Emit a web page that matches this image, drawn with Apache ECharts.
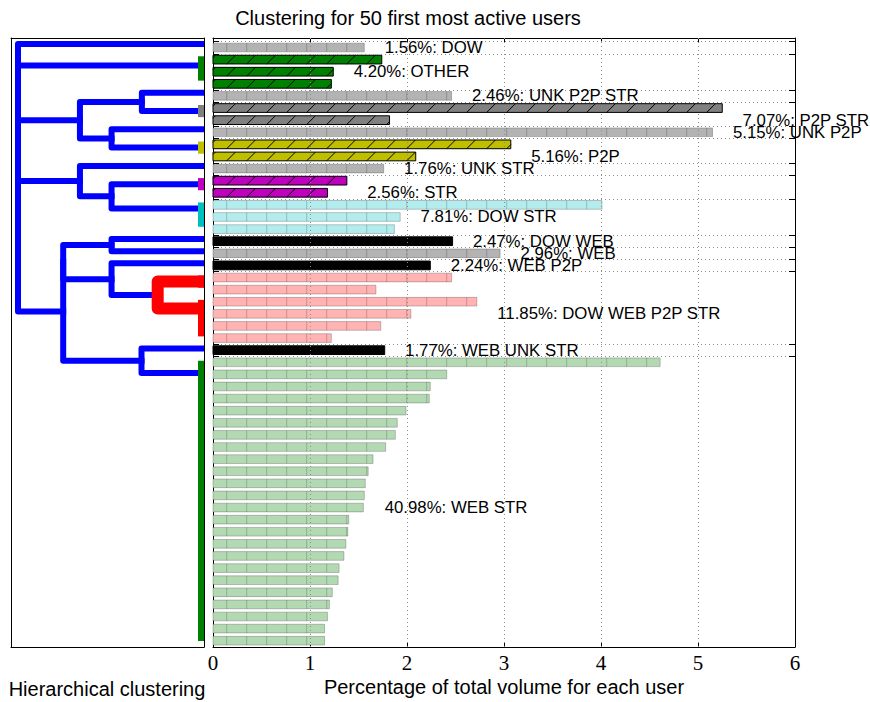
<!DOCTYPE html>
<html>
<head>
<meta charset="utf-8">
<script src="https://cdn.jsdelivr.net/npm/echarts@6/dist/echarts.min.js"></script>
<style>
  html, body { margin: 0; padding: 0; background: #fff; }
  #chart { width: 870px; height: 702px; }
</style>
</head>
<body>
<div id="chart"></div>
<script>
// ---- data -------------------------------------------------------------
// Behaviour clusters, in plotting order, and their share of total volume (%)
const clusterNames = ['DOW', 'OTHER', 'UNK P2P STR', 'P2P STR', 'UNK P2P', 'P2P', 'UNK STR',
  'STR', 'DOW STR', 'DOW WEB', 'WEB', 'WEB P2P', 'DOW WEB P2P STR', 'WEB UNK STR', 'WEB STR'];
const clusterShares = [1.56, 4.20, 2.46, 7.07, 5.15, 5.16, 1.76, 2.56, 7.81, 2.47, 2.96, 2.24, 11.85, 1.77, 40.98];
// Users per cluster (50 users in total)
const clusterSizes = [1, 3, 1, 2, 1, 2, 1, 2, 3, 1, 1, 1, 6, 1, 24];
// Percentage of total volume for each user, grouped by cluster
const userVolumes = [
  1.56,
  1.74, 1.24, 1.22,
  2.46,
  5.25, 1.82,
  5.15,
  3.07, 2.09,
  1.76,
  1.38, 1.18,
  4.01, 1.93, 1.87,
  2.47,
  2.96,
  2.24,
  2.46, 1.68, 2.72, 2.04, 1.73, 1.22,
  1.77,
  4.61, 2.41, 2.24, 2.23, 1.99, 1.90, 1.88, 1.78, 1.65, 1.60, 1.57, 1.56,
  1.55, 1.40, 1.39, 1.37, 1.35, 1.30, 1.29, 1.23, 1.20, 1.18, 1.15, 1.15
];
const xTicks = [0, 1, 2, 3, 4, 5, 6];

// Dendrogram links between clusters: [yA, dA, yB, dB, height]
// y is the leaf position (leaf k sits at k + 0.5), d the linkage distance
const treeLinks = [
  [6.75, 0.667, 11.75, 0.667, 1.0],
  [2.25, 0, 9.25, 1.0, 1.0],
  [0.5, 0, 5.75, 1.0, 1.0],
  [3.125, 1.0, 22.45, 0.757, 1.0],
  [4.5, 0, 6.0, 0, 0.334],
  [7.5, 0, 9.0, 0, 0.497],
  [5.25, 0.334, 8.25, 0.497, 0.667],
  [12.0, 0, 14.0, 0, 0.497],
  [10.5, 0, 13.0, 0.497, 0.667],
  [16.5, 0, 17.5, 0, 0.497],
  [18.5, 0, 21.1, 0.249, 0.497],
  [17.0, 0.497, 19.8, 0.497, 0.757],
  [25.5, 0, 27.5, 0, 0.336],
  [18.4, 0.757, 26.5, 0.336, 0.757]
];
// Links inside the colour-coded clusters: [yA, dA, yB, dB, height, cluster]
const clusterLinks = [
  [1.5, 0, 3.5, 0, 0, 1],
  [5.5, 0, 6.5, 0, 0, 3],
  [8.5, 0, 9.5, 0, 0, 5],
  [11.5, 0, 12.5, 0, 0, 7],
  [13.5, 0, 15.5, 0, 0, 8],
  [19.5, 0, 20.5, 0, 0, 12],
  [21.5, 0, 24.5, 0, 0, 12],
  [20.0, 0, 22.2, 0, 0.249, 12],
  [26.5, 0, 49.5, 0, 0, 14]
];

// ---- styles -----------------------------------------------------------
const clusterStyle = [
  { color: '#000000', alpha: 0.3, hatch: '|' },
  { color: '#008000', alpha: 1, hatch: '/' },
  { color: '#000000', alpha: 0.3, hatch: '|' },
  { color: '#808080', alpha: 1, hatch: '/' },
  { color: '#000000', alpha: 0.3, hatch: '|' },
  { color: '#bfbf00', alpha: 1, hatch: '/' },
  { color: '#000000', alpha: 0.3, hatch: '|' },
  { color: '#bf00bf', alpha: 1, hatch: '/' },
  { color: '#00bfbf', alpha: 0.3, hatch: '|' },
  { color: '#000000', alpha: 1, hatch: '' },
  { color: '#000000', alpha: 0.3, hatch: '|' },
  { color: '#000000', alpha: 1, hatch: '' },
  { color: '#ff0000', alpha: 0.3, hatch: '|' },
  { color: '#000000', alpha: 1, hatch: '' },
  { color: '#008000', alpha: 0.3, hatch: '|' }
];
const SANS = '"Liberation Sans", Arial, Helvetica, sans-serif';
const SERIF = '"Liberation Serif", "Times New Roman", serif';
const BAR_HALF = 0.36;      // half bar thickness, in rows
const LABEL_PAD = 0.21;     // gap between a bar end and its cluster label
const HATCH_STEP = 20, HATCH_PHASE = 6.7;

// ---- derived ----------------------------------------------------------
const clusterStart = [];
let acc = 0;
clusterSizes.forEach(n => { clusterStart.push(acc); acc += n; });
const userCluster = [];
clusterSizes.forEach((n, c) => { for (let k = 0; k < n; k++) userCluster.push(c); });

const barData = userVolumes.map((v, i) => [v, i, userCluster[i]]);
const labelData = clusterNames.map((name, c) => {
  const s = clusterStart[c], n = clusterSizes[c];
  return [userVolumes[s + Math.floor((n - 1) / 2)] + LABEL_PAD, s + Math.floor(n / 2) + 0.5, c];
});

function blend(hex, a) {
  const r = parseInt(hex.slice(1, 3), 16), g = parseInt(hex.slice(3, 5), 16), b = parseInt(hex.slice(5, 7), 16);
  const f = x => Math.round(x * a + 255 * (1 - a));
  return 'rgb(' + f(r) + ',' + f(g) + ',' + f(b) + ')';
}

// ---- renderers --------------------------------------------------------
function renderBar(params, api) {
  const v = api.value(0), i = api.value(1), c = api.value(2);
  const st = clusterStyle[c];
  const p0 = api.coord([0, i + 0.5 - BAR_HALF]);
  const p1 = api.coord([v, i + 0.5 + BAR_HALF]);
  const x0 = p0[0], x1 = p1[0];
  const yTop = Math.min(p0[1], p1[1]), yBot = Math.max(p0[1], p1[1]);
  const h = yBot - yTop;
  const light = st.alpha < 1;
  const edge = light ? 'rgba(0,0,0,0.22)' : '#000';
  const children = [{
    type: 'rect',
    shape: { x: x0, y: yTop, width: x1 - x0, height: h },
    style: { fill: blend(st.color, st.alpha), stroke: edge, lineWidth: 1 }
  }];
  if (st.hatch === '|') {
    let x = Math.ceil((x0 + 1 - HATCH_PHASE) / HATCH_STEP) * HATCH_STEP + HATCH_PHASE;
    for (; x < x1 - 1; x += HATCH_STEP) {
      children.push({ type: 'line', shape: { x1: x, y1: yTop, x2: x, y2: yBot },
        style: { stroke: 'rgba(0,0,0,0.2)', lineWidth: 1 } });
    }
  } else if (st.hatch === '/') {
    let xb = Math.floor((x0 - h - HATCH_PHASE) / HATCH_STEP) * HATCH_STEP + HATCH_PHASE;
    for (; xb < x1; xb += HATCH_STEP) {
      const t0 = Math.max(0, x0 - xb), t1 = Math.min(h, x1 - xb);
      if (t1 > t0 + 0.5) {
        children.push({ type: 'line', shape: { x1: xb + t0, y1: yBot - t0, x2: xb + t1, y2: yBot - t1 },
          style: { stroke: '#000', lineWidth: 1 } });
      }
    }
  }
  return { type: 'group', children: children };
}

function linkPoints(api) {
  const yA = api.value(0), dA = api.value(1), yB = api.value(2), dB = api.value(3), H = api.value(4);
  return [api.coord([dA, yA]), api.coord([H, yA]), api.coord([H, yB]), api.coord([dB, yB])];
}
function renderTreeLink(params, api) {
  return { type: 'polyline', shape: { points: linkPoints(api) },
    style: { stroke: '#0000ff', lineWidth: 6, fill: null, lineJoin: 'round', lineCap: 'square' } };
}
function renderClusterLink(params, api) {
  const c = api.value(5);
  return { type: 'polyline', shape: { points: linkPoints(api) },
    style: { stroke: clusterStyle[c].color, lineWidth: 12, fill: null, lineJoin: 'round', lineCap: 'butt' } };
}

// dotted separators at the first row of each cluster, with ticks on both spines
function renderSeparator(params, api) {
  const s = api.value(0);
  const pl = api.coord([xTicks[0], s]), pr = api.coord([xTicks[xTicks.length - 1], s]);
  const y = Math.round(pl[1]) + 0.5;
  return { type: 'group', children: [
    { type: 'line', shape: { x1: pl[0], y1: y, x2: pr[0], y2: y },
      style: { stroke: '#8c8c8c', lineWidth: 1, lineDash: [1, 3] } },
    { type: 'line', shape: { x1: pl[0], y1: y, x2: pl[0] + 6, y2: y }, style: { stroke: '#000', lineWidth: 1 } },
    { type: 'line', shape: { x1: pr[0] - 6, y1: y, x2: pr[0], y2: y }, style: { stroke: '#000', lineWidth: 1 } }
  ] };
}
// dotted vertical grid at the inner x ticks
function renderVGrid(params, api) {
  const t = api.value(0);
  const pt = api.coord([t, -0.285]), pb = api.coord([t, 50.02]);
  const x = Math.round(pt[0]) + 0.5;
  return { type: 'line', shape: { x1: x, y1: pt[1], x2: x, y2: pb[1] },
    style: { stroke: '#8c8c8c', lineWidth: 1, lineDash: [1, 3] } };
}
function renderLabel(params, api) {
  const c = api.value(2);
  const p = api.coord([api.value(0), api.value(1)]);
  return { type: 'text', x: p[0], y: p[1], style: {
    text: clusterShares[c].toFixed(2) + '%: ' + clusterNames[c],
    fill: '#000', font: '16.8px ' + SANS,
    textAlign: 'left', align: 'left', textVerticalAlign: 'middle', verticalAlign: 'middle' } };
}

// ---- chart ------------------------------------------------------------
const chart = echarts.init(document.getElementById('chart'), null, { renderer: 'svg', width: 870, height: 702 });

const frameAxis = { show: true, axisLine: { show: true, onZero: false, lineStyle: { color: '#000', width: 1 } },
  axisTick: { show: false }, axisLabel: { show: false }, splitLine: { show: false } };

const option = {
  animation: false,
  backgroundColor: '#fff',
  grid: [
    { left: 11, top: 38, width: 193, height: 609, outerBoundsMode: 'none' },
    { left: 213, top: 38, width: 582, height: 609, outerBoundsMode: 'none' }
  ],
  xAxis: [
    Object.assign({ type: 'value', gridIndex: 0, min: 0, max: 1.0376, inverse: true, position: 'bottom' }, frameAxis),
    Object.assign({ type: 'value', gridIndex: 0, min: 0, max: 1.0376, inverse: true, position: 'top' }, frameAxis),
    {
      type: 'value', gridIndex: 1, min: xTicks[0], max: xTicks[xTicks.length - 1], interval: 1, position: 'bottom',
      axisLine: { show: true, onZero: false, lineStyle: { color: '#000', width: 1 } },
      axisTick: { show: true, inside: true, length: 5, lineStyle: { color: '#000' } },
      axisLabel: { show: true, color: '#000', fontFamily: SERIF, fontSize: 21, margin: 5 },
      splitLine: { show: false }
    },
    {
      type: 'value', gridIndex: 1, min: xTicks[0], max: xTicks[xTicks.length - 1], interval: 1, position: 'top',
      axisLine: { show: true, onZero: false, lineStyle: { color: '#000', width: 1 } },
      axisTick: { show: true, inside: true, length: 5, lineStyle: { color: '#000' } },
      axisLabel: { show: false }, splitLine: { show: false }
    }
  ],
  yAxis: [
    Object.assign({ type: 'value', gridIndex: 0, min: 0, max: 50, inverse: true, position: 'left' }, frameAxis),
    Object.assign({ type: 'value', gridIndex: 0, min: 0, max: 50, inverse: true, position: 'right' }, frameAxis),
    Object.assign({ type: 'value', gridIndex: 1, min: -0.285, max: 50.02, inverse: true, position: 'left' }, frameAxis),
    Object.assign({ type: 'value', gridIndex: 1, min: -0.285, max: 50.02, inverse: true, position: 'right' }, frameAxis)
  ],
  graphic: [
    { type: 'text', x: 408, y: 18, style: { text: 'Clustering for 50 first most active users', fill: '#000',
      font: '20px ' + SANS, textAlign: 'center', align: 'center', textVerticalAlign: 'middle', verticalAlign: 'middle' } },
    { type: 'text', x: 107, y: 689, style: { text: 'Hierarchical clustering', fill: '#000',
      font: '20px ' + SANS, textAlign: 'center', align: 'center', textVerticalAlign: 'middle', verticalAlign: 'middle' } },
    { type: 'text', x: 504, y: 687, style: { text: 'Percentage of total volume for each user', fill: '#000',
      font: '20px ' + SANS, textAlign: 'center', align: 'center', textVerticalAlign: 'middle', verticalAlign: 'middle' } }
  ],
  series: [
    { type: 'custom', name: 'tree', xAxisIndex: 0, yAxisIndex: 0, clip: true, z: 2,
      data: treeLinks, renderItem: renderTreeLink, silent: true },
    { type: 'custom', name: 'clusters', xAxisIndex: 0, yAxisIndex: 0, clip: true, z: 3,
      data: clusterLinks, renderItem: renderClusterLink, silent: true },
    { type: 'custom', name: 'volume', xAxisIndex: 2, yAxisIndex: 2, z: 2,
      data: barData, renderItem: renderBar, silent: true },
    { type: 'custom', name: 'separators', xAxisIndex: 2, yAxisIndex: 2, z: 4,
      data: clusterStart.map(s => [s]), renderItem: renderSeparator, silent: true },
    { type: 'custom', name: 'vgrid', xAxisIndex: 2, yAxisIndex: 2, z: 4,
      data: xTicks.slice(1, -1).map(t => [t]), renderItem: renderVGrid, silent: true },
    { type: 'custom', name: 'labels', xAxisIndex: 2, yAxisIndex: 2, z: 5, clip: false,
      data: labelData, renderItem: renderLabel, silent: true }
  ]
};
chart.setOption(option);
</script>
</body>
</html>
